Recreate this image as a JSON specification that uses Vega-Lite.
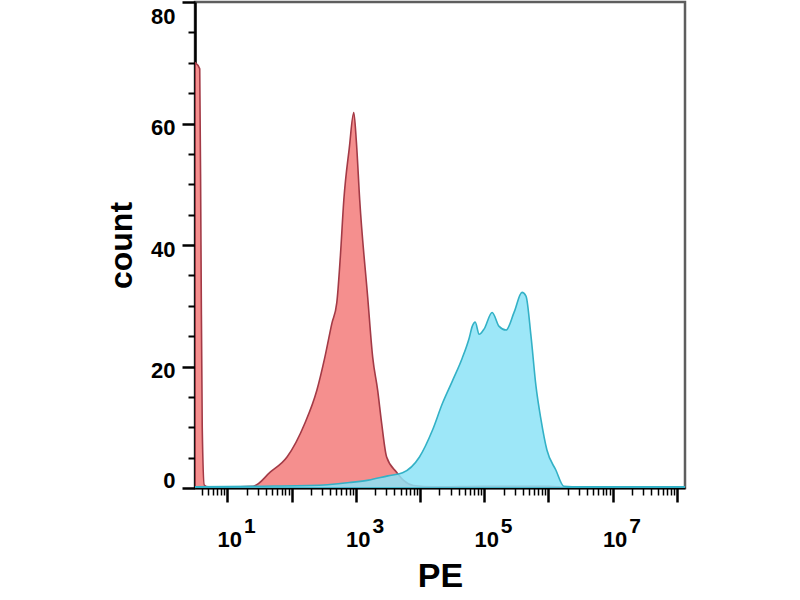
{
  "$schema": "https://vega.github.io/schema/vega-lite/v6.json",
  "description": "Flow cytometry histogram, PE channel",
  "width": 490,
  "height": 486,
  "autosize": "none",
  "padding": {"left": 195, "top": 2, "right": 115, "bottom": 112},
  "background": "white",
  "config": {
    "font": "Liberation Sans",
    "view": {"stroke": "#5e5e5e", "strokeWidth": 2.5},
    "axis": {
      "labelFont": "Liberation Sans",
      "labelFontWeight": "bold",
      "labelFontSize": 22,
      "labelColor": "black",
      "titleFont": "Liberation Sans",
      "titleFontWeight": "bold",
      "titleColor": "black",
      "tickColor": "black",
      "domainColor": "black",
      "grid": false
    }
  },
  "datasets": {
    "red": [
      {"pe": 3.16, "count": 70},
      {"pe": 3.72, "count": 69},
      {"pe": 3.89, "count": 40},
      {"pe": 4.07, "count": 10},
      {"pe": 4.37, "count": 0.5},
      {"pe": 5.01, "count": 0.2},
      {"pe": 10, "count": 0.2},
      {"pe": 25.3, "count": 0.3},
      {"pe": 46.5, "count": 2.6},
      {"pe": 85.1, "count": 5.1},
      {"pe": 162, "count": 10.7},
      {"pe": 248, "count": 16.1},
      {"pe": 330, "count": 21.5},
      {"pe": 425, "count": 27.1},
      {"pe": 507, "count": 30.5},
      {"pe": 575, "count": 38},
      {"pe": 652, "count": 47.4},
      {"pe": 794, "count": 56},
      {"pe": 931, "count": 61.8},
      {"pe": 1023, "count": 57},
      {"pe": 1153, "count": 47.4},
      {"pe": 1535, "count": 31.4},
      {"pe": 1837, "count": 21.5},
      {"pe": 2193, "count": 16.1},
      {"pe": 2529, "count": 10.7},
      {"pe": 3027, "count": 5.1},
      {"pe": 4325, "count": 2.6},
      {"pe": 5623, "count": 1.2},
      {"pe": 7943, "count": 0.4},
      {"pe": 15849, "count": 0.2},
      {"pe": 100000, "count": 0.3},
      {"pe": 1000000, "count": 0.3},
      {"pe": 2000000, "count": 0.1},
      {"pe": 134000000, "count": 0.1}
    ],
    "blue": [
      {"pe": 3.16, "count": 0.2},
      {"pe": 31.6, "count": 0.3},
      {"pe": 316, "count": 0.5},
      {"pe": 794, "count": 0.9},
      {"pe": 1585, "count": 1.3},
      {"pe": 3162, "count": 2.0},
      {"pe": 5358, "count": 2.5},
      {"pe": 9817, "count": 5.1},
      {"pe": 15631, "count": 9.5},
      {"pe": 22336, "count": 13.9},
      {"pe": 31915, "count": 17.6},
      {"pe": 45604, "count": 21.4},
      {"pe": 58479, "count": 24.7},
      {"pe": 65163, "count": 26.6},
      {"pe": 72444, "count": 27.3},
      {"pe": 83560, "count": 25.3},
      {"pe": 100000, "count": 26.2},
      {"pe": 133045, "count": 28.9},
      {"pe": 171002, "count": 26.6},
      {"pe": 219280, "count": 26.0},
      {"pe": 291743, "count": 28.9},
      {"pe": 388150, "count": 32.2},
      {"pe": 447713, "count": 31.6},
      {"pe": 535797, "count": 25.0},
      {"pe": 639735, "count": 16.8},
      {"pe": 765597, "count": 11.3},
      {"pe": 948418, "count": 6.25},
      {"pe": 1306171, "count": 2.96},
      {"pe": 1737801, "count": 0.3},
      {"pe": 3162278, "count": 0.2},
      {"pe": 134000000, "count": 0.2}
    ]
  },
  "layer": [
    {
      "data": {"name": "red"},
      "mark": {
        "type": "area",
        "interpolate": "monotone",
        "fill": "#f58f8e",
        "stroke": "#a33a46",
        "strokeWidth": 1.6,
        "clip": true
      },
      "encoding": {
        "x": {
          "field": "pe",
          "type": "quantitative",
          "scale": {"type": "log", "domain": [3.14, 134000000], "nice": false},
          "axis": {
            "orient": "bottom",
            "title": "PE",
            "titleFontSize": 34,
            "titlePadding": 9,
            "values": [10, 100, 1000, 10000, 100000, 1000000, 10000000, 100000000],
            "labelExpr": "(round(log(datum.value)/LN10) % 2 == 1) ? '10' : ''",
            "labelAlign": "center",
            "labelBaseline": "top",
            "labelOffset": 2,
            "labelPadding": 27,
            "labelOverlap": false,
            "labelBound": false,
            "labelFlush": false,
            "tickSize": 14,
            "tickWidth": 2.5,
            "domainWidth": 2
          }
        },
        "y": {
          "field": "count",
          "type": "quantitative",
          "scale": {"domain": [0, 80], "nice": false},
          "axis": {
            "orient": "left",
            "title": "count",
            "titleFontSize": 32,
            "titlePadding": 12,
            "values": [0, 20, 40, 60, 80],
            "labelPadding": 7,
            "labelFlush": true,
            "labelOffset": 4,
            "tickSize": 13,
            "tickWidth": 2.5,
            "domainWidth": 2.5
          }
        }
      }
    },
    {
      "data": {"name": "blue"},
      "mark": {
        "type": "area",
        "interpolate": "monotone",
        "fill": "#8ce3f7",
        "fillOpacity": 0.85,
        "stroke": "#33b1c6",
        "strokeWidth": 1.6,
        "clip": true
      },
      "encoding": {
        "x": {"field": "pe", "type": "quantitative", "axis": null},
        "y": {"field": "count", "type": "quantitative", "axis": null}
      }
    },
    {
      "data": {"name": "red"},
      "mark": {"type": "point", "opacity": 0},
      "encoding": {
        "x": {
          "field": "pe",
          "type": "quantitative",
          "axis": {
            "orient": "bottom",
            "title": null,
            "labels": false,
            "domain": false,
            "tickSize": 7,
            "tickWidth": 1.5,
            "values": [4, 5, 6, 7, 8, 9, 20, 30, 40, 50, 60, 70, 80, 90, 200, 300, 400, 500, 600, 700, 800, 900, 2000, 3000, 4000, 5000, 6000, 7000, 8000, 9000, 20000, 30000, 40000, 50000, 60000, 70000, 80000, 90000, 200000, 300000, 400000, 500000, 600000, 700000, 800000, 900000, 2000000, 3000000, 4000000, 5000000, 6000000, 7000000, 8000000, 9000000, 20000000, 30000000, 40000000, 50000000, 60000000, 70000000, 80000000, 90000000]
          }
        },
        "y": {
          "field": "count",
          "type": "quantitative",
          "axis": {
            "orient": "left",
            "title": null,
            "labels": false,
            "domain": false,
            "tickSize": 7,
            "tickWidth": 2,
            "values": [5, 10, 15, 25, 30, 35, 45, 50, 55, 65, 70, 75]
          }
        }
      }
    },
    {
      "data": {"name": "red"},
      "mark": {"type": "point", "opacity": 0},
      "encoding": {
        "x": {
          "field": "pe",
          "type": "quantitative",
          "axis": {
            "orient": "bottom",
            "title": null,
            "domain": false,
            "ticks": false,
            "tickSize": 0,
            "values": [10, 1000, 100000, 10000000],
            "labelExpr": "round(log(datum.value)/LN10)",
            "labelFontSize": 21,
            "labelAlign": "center",
            "labelBaseline": "top",
            "labelOffset": 22,
            "labelPadding": 27,
            "labelOverlap": false,
            "labelBound": false,
            "labelFlush": false
          }
        }
      }
    }
  ],
  "resolve": {"axis": {"x": "independent", "y": "independent"}}
}
